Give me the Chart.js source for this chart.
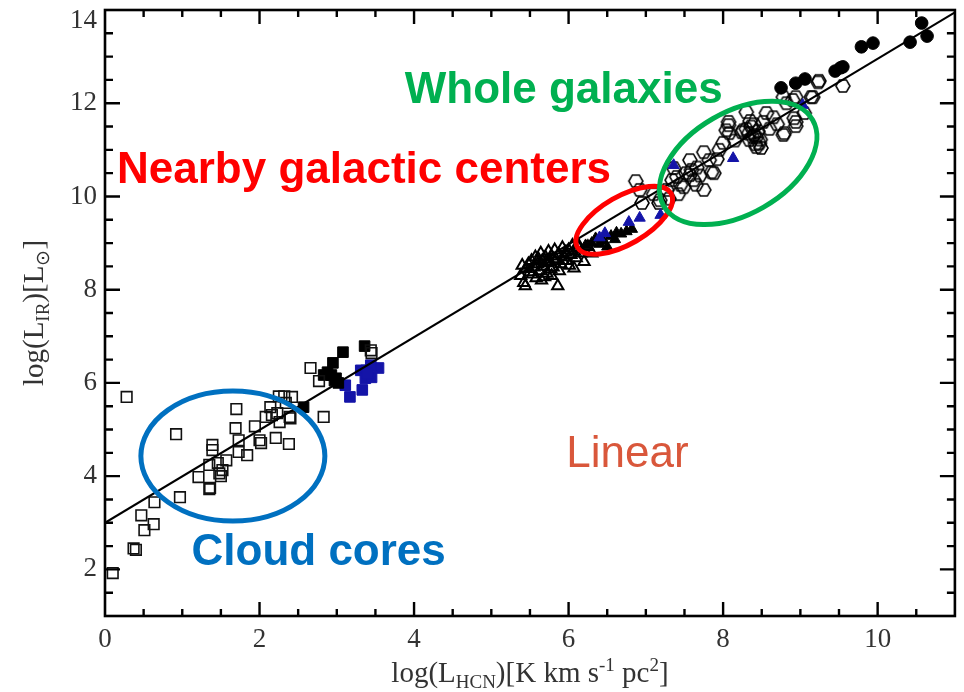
<!DOCTYPE html>
<html>
<head>
<meta charset="utf-8">
<script src="https://cdn.jsdelivr.net/npm/chart.js@4.4.0/dist/chart.umd.min.js"></script>
<style>
  body { margin: 0; background: #fff; }
  #wrap { width: 964px; height: 692px; }
</style>
</head>
<body>
<div id="wrap"><canvas id="grafico" width="964" height="692"></canvas></div>
<script>
// axis ranges / tick labels
const xMin = 0, xMax = 11, yMin = 1, yMax = 14;
const xLabels = [0, 2, 4, 6, 8, 10];
const yLabels = [2, 4, 6, 8, 10, 12, 14];

// fit line
const fitX = [0, 11];
const fitY = [3.0, 13.95];

// cloud cores (open squares)
const coreX = [0.10, 0.28, 0.37, 0.40, 0.47, 0.51, 0.63, 0.64, 0.92, 0.97, 1.21, 1.35, 1.36, 1.39, 1.39, 1.35, 1.46, 1.48, 1.52, 1.50, 1.57, 1.70, 1.69, 1.73, 1.73, 1.84, 1.94, 2.00, 2.02, 2.08, 2.14, 2.16, 2.21, 2.23, 2.26, 2.25, 2.32, 2.42, 2.34, 2.39, 2.40, 2.38, 2.83, 2.66, 2.77, 3.44, 3.45];
const coreY = [1.92, 5.70, 2.45, 2.42, 3.16, 2.84, 2.97, 3.44, 4.90, 3.55, 3.98, 3.72, 3.75, 4.67, 4.56, 4.24, 4.28, 4.06, 4.13, 4.00, 4.34, 5.44, 5.03, 4.77, 4.52, 4.45, 5.07, 4.77, 4.71, 5.27, 5.48, 5.31, 4.82, 5.35, 5.16, 5.71, 5.71, 5.70, 5.57, 5.27, 5.24, 4.69, 5.27, 6.32, 6.04, 6.70, 6.64];

// filled black squares
const sqBlackX = [2.57, 2.83, 2.88, 2.93, 2.95, 2.97, 2.99, 3.02, 3.08, 3.36];
const sqBlackY = [5.48, 6.17, 6.23, 6.17, 6.43, 6.05, 6.10, 6.00, 6.66, 6.79];

// filled blue squares
const sqBlueX = [3.11, 3.17, 3.33, 3.31, 3.38, 3.37, 3.45, 3.54, 3.44, 3.40];
const sqBlueY = [5.95, 5.70, 5.85, 6.27, 6.27, 6.10, 6.12, 6.32, 6.38, 6.20];

// open triangles (dense cluster)
const triOpenX = [5.38, 5.40, 5.42, 5.44, 5.45, 5.48, 5.50, 5.52, 5.53, 5.55, 5.57, 5.58, 5.60, 5.61, 5.62, 5.64, 5.65, 5.66, 5.68, 5.69, 5.70, 5.72, 5.73, 5.74, 5.75, 5.77, 5.78, 5.78, 5.80, 5.81, 5.82, 5.84, 5.86, 5.87, 5.88, 5.90, 5.92, 5.93, 5.94, 5.96, 5.98, 6.00, 6.01, 6.03, 6.05, 6.07, 6.08, 6.10, 6.12, 6.13, 6.16, 6.20, 6.25, 6.30];
const triOpenY = [8.30, 8.52, 8.15, 8.08, 8.45, 8.55, 8.38, 8.62, 8.33, 8.48, 8.70, 8.25, 8.55, 8.66, 8.40, 8.78, 8.20, 8.62, 8.50, 8.27, 8.70, 8.35, 8.58, 8.82, 8.60, 8.44, 8.72, 8.30, 8.48, 8.66, 8.85, 8.65, 8.08, 8.76, 8.40, 8.55, 8.90, 8.62, 8.70, 8.80, 8.62, 8.85, 8.52, 8.75, 8.95, 8.46, 8.82, 8.68, 8.98, 8.90, 8.78, 8.60, 8.92, 8.78];

// filled black triangles
const triBlackX = [6.22, 6.30, 6.35, 6.40, 6.45, 6.50, 6.55, 6.60, 6.62, 6.68, 6.75, 6.82];
const triBlackY = [8.95, 9.00, 9.10, 8.98, 9.05, 8.92, 9.15, 9.08, 9.22, 9.20, 9.25, 9.30];

// filled blue triangles
const triBlueX = [6.40, 6.47, 6.78, 6.92, 7.19, 7.36, 8.13, 9.03];
const triBlueY = [9.12, 9.21, 9.45, 9.54, 9.60, 10.67, 10.82, 11.96];

// whole galaxies (open hexagons)
const galX = [6.87, 6.92, 6.95, 7.10, 7.17, 7.18, 7.27, 7.30, 7.34, 7.36, 7.40, 7.42, 7.45, 7.49, 7.52, 7.57, 7.57, 7.59, 7.62, 7.65, 7.66, 7.70, 7.75, 7.75, 7.82, 7.85, 7.88, 7.92, 7.95, 8.00, 8.04, 8.07, 8.07, 8.08, 8.15, 8.24, 8.26, 8.30, 8.30, 8.33, 8.34, 8.35, 8.36, 8.38, 8.40, 8.40, 8.42, 8.43, 8.43, 8.45, 8.47, 8.48, 8.49, 8.52, 8.56, 8.60, 8.65, 8.70, 8.78, 8.78, 8.79, 8.82, 8.90, 8.92, 8.94, 8.94, 8.94, 9.05, 9.14, 9.16, 9.23, 9.24, 9.55];
const galY = [10.33, 10.14, 9.86, 10.05, 9.86, 9.92, 10.14, 9.95, 10.35, 10.61, 10.42, 10.05, 10.25, 10.20, 10.50, 10.78, 10.46, 10.57, 10.35, 10.25, 10.62, 10.45, 10.95, 10.14, 10.78, 10.52, 10.50, 10.80, 11.00, 11.15, 11.42, 11.60, 11.53, 11.36, 11.20, 11.38, 11.42, 11.81, 11.45, 11.35, 11.21, 11.62, 11.50, 11.28, 11.32, 11.55, 11.12, 11.06, 11.27, 11.40, 11.14, 11.22, 11.04, 11.60, 11.79, 11.45, 11.70, 11.55, 12.13, 11.32, 11.36, 12.00, 12.07, 11.68, 12.13, 11.51, 11.60, 11.79, 12.13, 12.13, 12.45, 12.48, 12.37];

// filled black circles
const circX = [8.75, 8.94, 9.06, 9.45, 9.52, 9.55, 9.79, 9.94, 10.42, 10.57, 10.64];
const circY = [12.33, 12.43, 12.52, 12.69, 12.76, 12.78, 13.21, 13.29, 13.31, 13.72, 13.44];

// annotations (data position of text left/baseline, ellipse centres)
const notes = [
    { text: "Whole galaxies", x: 3.88, y: 12.0, color: "#00B050", bold: true },
    { text: "Nearby galactic centers", x: 0.155, y: 10.29, color: "#FF0000", bold: true },
    { text: "Cloud cores", x: 1.12, y: 2.09, color: "#0070C0", bold: true },
    { text: "Linear", x: 5.97, y: 4.19, color: "#D9573B", bold: false }
];
const rings = [
    { x: 1.655, y: 4.43, rx: 92, ry: 65, rot: 0, color: "#0070C0" },
    { x: 6.72, y: 9.49, rx: 54, ry: 24, rot: -30, color: "#FF0000" },
    { x: 8.195, y: 10.72, rx: 86, ry: 51, rot: -30, color: "#00B050" }
];

const pts = (xs, ys) => xs.map((x, i) => ({ x: x, y: ys[i] }));

// hexagon marker
const hexagono = document.createElement("canvas");
hexagono.width = 18; hexagono.height = 18;
(() => {
    const c = hexagono.getContext("2d");
    c.strokeStyle = "#000";
    c.lineWidth = 1.6;
    c.beginPath();
    for (let k = 0; k < 6; k++) {
        const a = Math.PI / 3 * k;
        const px = 9 + 7 * Math.cos(a), py = 9 + 7 * Math.sin(a);
        if (k === 0) c.moveTo(px, py); else c.lineTo(px, py);
    }
    c.closePath();
    c.stroke();
})();

const serif = "'Liberation Serif', 'Times New Roman', serif";
const sans = "'Liberation Sans', Arial, sans-serif";

// rich text helper for titles with sub/superscripts
function drawRich(ctx, segs, cx, baseY, size) {
    const small = Math.round(size * 0.64);
    let total = 0;
    segs.forEach(s => {
        ctx.font = (s.v ? small : size) + "px " + serif;
        s.w = ctx.measureText(s.t).width;
        total += s.w;
    });
    let x = cx - total / 2;
    segs.forEach(s => {
        ctx.font = (s.v ? small : size) + "px " + serif;
        const dy = s.v === "sub" ? size * 0.22 : (s.v === "sup" ? -size * 0.38 : 0);
        ctx.fillText(s.t, x, baseY + dy);
        x += s.w;
    });
}

const moldura = {
    id: "moldura",
    afterDatasetsDraw(chart) {
        const { ctx, chartArea: a, scales } = chart;
        const sx = scales.x, sy = scales.y;
        ctx.save();
        // ellipses
        rings.forEach(r => {
            ctx.beginPath();
            ctx.ellipse(sx.getPixelForValue(r.x), sy.getPixelForValue(r.y), r.rx, r.ry, r.rot * Math.PI / 180, 0, Math.PI * 2);
            ctx.strokeStyle = r.color;
            ctx.lineWidth = 5;
            ctx.stroke();
        });
        // labels
        ctx.textBaseline = "alphabetic";
        ctx.textAlign = "left";
        notes.forEach(n => {
            ctx.font = (n.bold ? "bold " : "") + "44px " + sans;
            ctx.fillStyle = n.color;
            ctx.fillText(n.text, sx.getPixelForValue(n.x), sy.getPixelForValue(n.y));
        });
        // frame + inward ticks
        ctx.strokeStyle = "#000";
        ctx.lineWidth = 2.6;
        ctx.strokeRect(a.left, a.top, a.right - a.left, a.bottom - a.top);
        ctx.lineWidth = 2.4;
        ctx.beginPath();
        sx.ticks.forEach(t => {
            if (t.value <= xMin || t.value >= xMax) return;
            const p = sx.getPixelForValue(t.value);
            const len = t.value % 2 === 0 ? 14 : 7;
            ctx.moveTo(p, a.bottom); ctx.lineTo(p, a.bottom - len);
            ctx.moveTo(p, a.top); ctx.lineTo(p, a.top + len);
        });
        sy.ticks.forEach(t => {
            if (t.value <= yMin || t.value >= yMax) return;
            const p = sy.getPixelForValue(t.value);
            const len = t.value % 2 === 0 ? 15 : 8;
            ctx.moveTo(a.left, p); ctx.lineTo(a.left + len, p);
            ctx.moveTo(a.right, p); ctx.lineTo(a.right - len, p);
        });
        ctx.stroke();
        ctx.restore();
    },
    afterDraw(chart) {
        const { ctx, chartArea: a, scales } = chart;
        ctx.save();
        ctx.fillStyle = "#333";
        // top y label sits below the frame edge, as in the original
        ctx.font = "27px " + serif;
        ctx.textAlign = "right";
        ctx.textBaseline = "middle";
        ctx.fillText(String(yMax), a.left - 8, scales.y.getPixelForValue(yMax) + 11);
        ctx.textAlign = "left";
        ctx.textBaseline = "alphabetic";
        drawRich(ctx, [
            { t: "log(L" }, { t: "HCN", v: "sub" }, { t: ")[K km s" }, { t: "-1", v: "sup" },
            { t: " pc" }, { t: "2", v: "sup" }, { t: "]" }
        ], (a.left + a.right) / 2, 682, 29);
        ctx.translate(43, (a.top + a.bottom) / 2);
        ctx.rotate(-Math.PI / 2);
        drawRich(ctx, [
            { t: "log(L" }, { t: "IR", v: "sub" }, { t: ")[L" }, { t: "\u2299", v: "sub" }, { t: "]" }
        ], 0, 0, 29);
        ctx.restore();
    }
};

const ctx = document.getElementById("grafico").getContext("2d");
new Chart(ctx, {
    type: "scatter",
    data: {
        datasets: [
            { type: "line", data: pts(fitX, fitY), borderColor: "#000", borderWidth: 2, pointRadius: 0, fill: false },
            { data: pts(coreX, coreY), pointStyle: "rect", pointRadius: 7.5, backgroundColor: "rgba(0,0,0,0)", borderColor: "#111", borderWidth: 1.6 },
            { data: pts(sqBlackX, sqBlackY), pointStyle: "rect", pointRadius: 7.5, backgroundColor: "#000", borderColor: "#000", borderWidth: 1 },
            { data: pts(sqBlueX, sqBlueY), pointStyle: "rect", pointRadius: 7.5, backgroundColor: "#1414A8", borderColor: "#1414A8", borderWidth: 1 },
            { data: pts(triBlueX, triBlueY), pointStyle: "triangle", pointRadius: 6.5, backgroundColor: "#1414A8", borderColor: "#1414A8", borderWidth: 1 },
            { data: pts(triBlackX, triBlackY), pointStyle: "triangle", pointRadius: 6.5, backgroundColor: "#000", borderColor: "#000", borderWidth: 1 },
            { data: pts(triOpenX, triOpenY), pointStyle: "triangle", pointRadius: 6.5, backgroundColor: "rgba(0,0,0,0)", borderColor: "#000", borderWidth: 2 },
            { data: pts(galX, galY), pointStyle: hexagono, pointRadius: 7 },
            { data: pts(circX, circY), pointStyle: "circle", pointRadius: 6.3, backgroundColor: "#000", borderColor: "#000", borderWidth: 1 }
        ]
    },
    options: {
        responsive: false,
        animation: false,
        layout: { padding: { top: 10, right: 8, left: 0, bottom: 0 } },
        plugins: { legend: { display: false }, tooltip: { enabled: false } },
        scales: {
            x: {
                type: "linear", min: xMin, max: xMax,
                grid: { display: false, drawTicks: false },
                border: { display: false },
                ticks: {
                    stepSize: 0.5, autoSkip: false, maxRotation: 0, padding: 8,
                    color: "#333", font: { family: serif, size: 27 },
                    callback: v => xLabels.includes(v) ? String(v) : ""
                },
                afterFit: s => { s.height = 76; s.paddingLeft = 0; s.paddingRight = 0; }
            },
            y: {
                type: "linear", min: yMin, max: yMax,
                grid: { display: false, drawTicks: false },
                border: { display: false },
                ticks: {
                    stepSize: 0.5, autoSkip: false, padding: 8,
                    color: "#333", font: { family: serif, size: 27 },
                    // 14 is drawn by the plugin, nudged below the frame
                    callback: v => (yLabels.includes(v) && v !== yMax) ? String(v) : ""
                },
                afterFit: s => { s.width = 105; s.paddingTop = 0; s.paddingBottom = 0; }
            }
        }
    },
    plugins: [moldura]
});
</script>
</body>
</html>
